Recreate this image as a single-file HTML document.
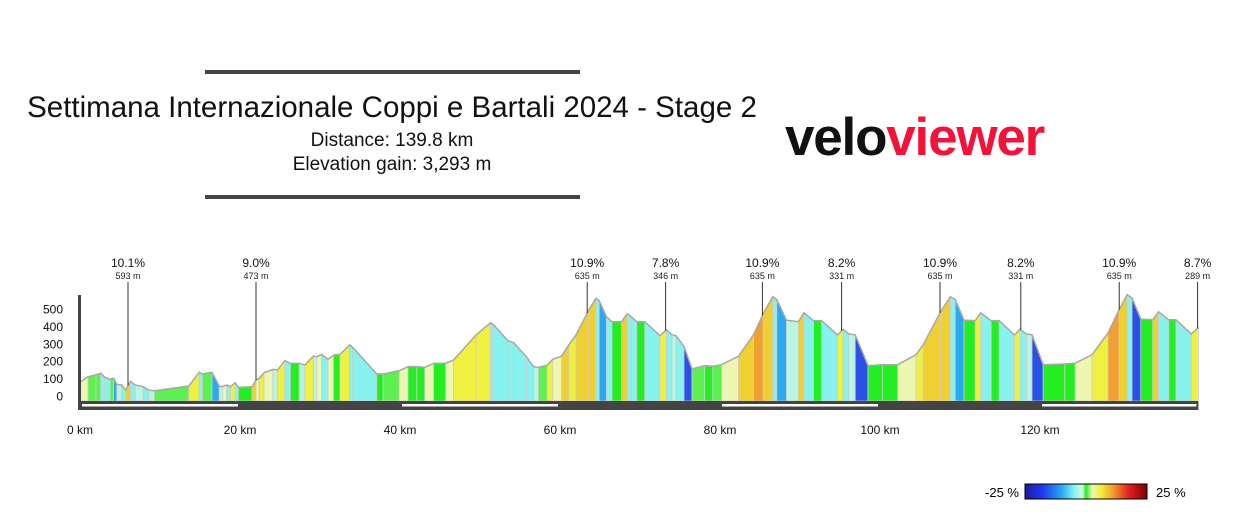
<!DOCTYPE html>
<html><head><meta charset="utf-8"><style>
body{margin:0;background:#fff;width:1245px;height:522px;overflow:hidden;font-family:"Liberation Sans",sans-serif}
</style></head><body>
<svg width="1245" height="522" viewBox="0 0 1245 522" xmlns="http://www.w3.org/2000/svg">
<rect x="205" y="70" width="375" height="4" fill="#444"/>
<rect x="205" y="195" width="375" height="4" fill="#444"/>
<text x="392" y="117" font-size="29.5" text-anchor="middle" fill="#111">Settimana Internazionale Coppi e Bartali 2024 - Stage 2</text>
<text x="392" y="146" font-size="19" text-anchor="middle" fill="#111">Distance: 139.8 km</text>
<text x="392" y="170" font-size="19" text-anchor="middle" fill="#111">Elevation gain: 3,293 m</text>
<text x="785" y="155" font-size="53" font-weight="bold" letter-spacing="-1.2"><tspan fill="#111">velo</tspan><tspan fill="#f3123a">viewer</tspan></text>
<g id="profile"></g>
<g id="axes"></g>
<g id="annots"></g>
<defs><linearGradient id="cb" x1="0" x2="1" y1="0" y2="0">
<stop offset="0" stop-color="#1a1aa0"/><stop offset="0.15" stop-color="#1e3cf0"/><stop offset="0.3" stop-color="#28a8f0"/><stop offset="0.4" stop-color="#80f4f0"/><stop offset="0.47" stop-color="#d0f8e8"/><stop offset="0.5" stop-color="#20f020"/><stop offset="0.55" stop-color="#eef6b0"/><stop offset="0.62" stop-color="#f0f040"/><stop offset="0.72" stop-color="#f0a030"/><stop offset="0.85" stop-color="#e02020"/><stop offset="1" stop-color="#800000"/>
</linearGradient></defs>
<rect x="1025" y="484" width="122" height="15" fill="url(#cb)" stroke="#000" stroke-width="1"/>
<text x="1019" y="497" font-size="13" text-anchor="end">-25 %</text>
<text x="1156" y="497" font-size="13">25 %</text>
</svg>
<script>
const kms=[0.1,1,2,2.6,3.1,3.75,4.2,4.6,5.2,5.7,6.3,6.9,7.9,8.6,9.3,13.6,14.9,15.3,16.5,17.4,17.8,18.3,18.8,19.4,19.8,21.5,22,22.4,23,24.1,24.7,25.6,26.3,27.4,28.1,29.2,29.6,30.2,31,31.7,32.5,33.7,34.1,37.1,37.9,39.9,41,42.1,43.1,44.2,45.7,46.7,49.5,51.3,51.6,53.5,54.2,55.8,56.7,57.3,58.4,59.1,60.2,61.1,62,63.6,64.5,64.9,65.8,66.5,67.7,68.4,68.9,69.6,70.6,72.5,73.3,74,74.5,75.5,76.5,78.1,79.1,80.2,82.3,84.2,85.4,86.6,87.1,88.3,89.8,90.5,91.7,92.7,94.7,95.4,96.1,96.9,98.5,100.3,102.2,104.5,105.4,107.6,108.8,109.4,110.5,111.9,112.6,113.9,114.9,116.8,117.5,118.3,119,120.4,123.1,124.4,126.5,128.5,129.9,130.9,131.5,132.6,134.1,134.8,136.1,137,138.9,139.8];
const elevs=[86,114,126,134,111,100,106,71,67,38,88,67,57,38,34,61,140,130,140,61,57,67,57,80,53,57,95,105,137,156,153,206,191,191,181,233,229,242,214,238,242,296,282,130,130,149,172,172,168,191,191,210,353,423,416,320,309,229,172,168,181,214,233,296,353,496,563,549,458,429,429,475,458,429,429,349,383,354,349,288,159,178,174,183,231,355,475,572,556,438,429,480,435,435,353,386,359,354,178,183,183,240,297,488,572,556,438,435,480,435,435,353,386,359,354,183,187,192,240,364,498,584,565,444,440,486,440,440,359,396];
const annKm=[6.0,22.0,63.4,73.2,85.3,95.2,107.5,117.6,129.9,139.7];
const annPct=["10.1%","9.0%","10.9%","7.8%","10.9%","8.2%","10.9%","8.2%","10.9%","8.7%"];
const annAlt=["593 m","473 m","635 m","346 m","635 m","331 m","635 m","331 m","635 m","289 m"];
const yTicks=[0,100,200,300,400,500];
const xTicks=[0,20,40,60,80,100,120];
const NS="http://www.w3.org/2000/svg";
const X=k=>80+k*8, Y=e=>396.7-e*0.1748, BASE=401;
function mk(t,a,p){const e=document.createElementNS(NS,t);for(const k in a)e.setAttribute(k,a[k]);p.appendChild(e);return e;}
function col(g){if(g<-11)return"#2a50e8";if(g<-7)return"#2aa8f0";if(g<-1.5)return"#88f2ee";if(g<-0.5)return"#b8f6e4";if(g<0.6)return"#22ee22";if(g<1.5)return"#5cf050";if(g<3.5)return"#eef6b4";if(g<6.5)return"#f0f040";if(g<9)return"#f0d030";return"#f0a030";}
const prof=document.getElementById('profile');
for(let i=0;i<kms.length-1;i++){
 const g=(elevs[i+1]-elevs[i])/((kms[i+1]-kms[i])*10);
 const p=mk('polygon',{points:`${X(kms[i])},${BASE} ${X(kms[i])},${Y(elevs[i])} ${X(kms[i+1])},${Y(elevs[i+1])} ${X(kms[i+1])},${BASE}`,fill:col(g),stroke:'#ccc','stroke-width':0.8},prof);
 
 
}
const line=mk('polyline',{points:kms.map((k,i)=>X(k)+','+Y(elevs[i])).join(' '),fill:'none',stroke:'#a8a8a8','stroke-width':1.5},prof);


const ax=document.getElementById('axes');
const bar=mk('rect',{x:78,y:401,width:X(139.8)-78,height:9,fill:'#444'},ax);


const va=mk('rect',{x:78,y:295,width:3,height:115,fill:'#444'},ax);


for(let s=0;s<140;s+=40){const w=mk('rect',{x:X(s)+2,y:404,width:Math.min(20,139.8-s)*8-4,height:2.5,fill:'#fff'},ax);
 
 }
yTicks.forEach(v=>{const t=mk('text',{x:63,y:Y(v)+4,'font-size':12,'text-anchor':'end',fill:'#111'},ax);t.textContent=v;
 
 });
xTicks.forEach(v=>{const t=mk('text',{x:X(v),y:434,'font-size':12,'text-anchor':'middle',fill:'#111'},ax);t.textContent=v+' km';
 
 });
const an=document.getElementById('annots');
function elevAt(k){for(let i=0;i<kms.length-1;i++)if(k<=kms[i+1])return elevs[i]+(elevs[i+1]-elevs[i])*(k-kms[i])/(kms[i+1]-kms[i]);return elevs[elevs.length-1];}
annKm.forEach((k,i)=>{
 const l=mk('line',{x1:X(k),x2:X(k),y1:282,y2:Y(elevAt(k)),stroke:'#333','stroke-width':1},an);
 
 
 const a=mk('text',{x:X(k),y:267,'font-size':12,'text-anchor':'middle',fill:'#111'},an);a.textContent=annPct[i];
 
 
 const b=mk('text',{x:X(k),y:279,'font-size':9,'text-anchor':'middle',fill:'#222'},an);b.textContent=annAlt[i];
 
 
});
</script>
</body></html>
